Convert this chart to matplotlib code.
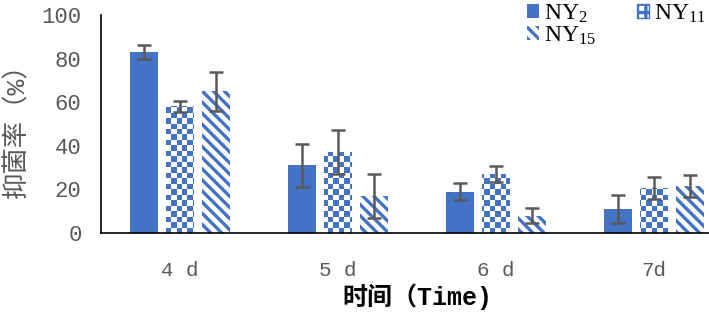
import numpy as np
import matplotlib
matplotlib.use('Agg')
import matplotlib.pyplot as plt
from matplotlib.colors import ListedColormap
from matplotlib.patches import Patch

plt.rcParams['font.family'] = ['Liberation Mono', 'Noto Sans CJK SC', 'DejaVu Sans']
plt.rcParams['mathtext.default'] = 'regular'
plt.rcParams['hatch.linewidth'] = 2.4
plt.rcParams['hatch.color'] = '#4472C4'

days = ['4 d', '5 d', '6 d', '7d']
ny2 = [83, 31, 19, 11]
ny2_err = [3, 10, 4, 6.5]
ny11 = [58, 37, 27, 20.5]
ny11_err = [2.5, 10, 3.5, 5]
ny15 = [65, 17, 8, 21.5]
ny15_err = [9, 10, 3.5, 5]

blue = '#4472C4'
grey = '#595959'

fig = plt.figure(figsize=(7.09, 3.17), dpi=100)
ax = fig.add_axes([0.1425, 0.265, 0.891, 0.688])

x = np.arange(len(days))
w = 0.175
off = 0.228
err_kw = dict(ecolor=grey, elinewidth=1.8, capsize=5, capthick=1.8)

ax.bar(x - off, ny2, w, yerr=ny2_err, color=blue, error_kw=err_kw, zorder=2)
b11 = ax.bar(x, ny11, w, yerr=ny11_err, color='none', error_kw=err_kw, zorder=3)
ax.bar(x + off, ny15, w, yerr=ny15_err, color='white', hatch='\\\\\\', linewidth=0,
       error_kw=err_kw, zorder=2)

# checkerboard fill for NY11, clipped to each bar
ncol, nrow = 117, 40
ii, jj = np.meshgrid(np.arange(ncol), np.arange(nrow))
checker = (ii + jj) % 2
cmap = ListedColormap(['white', blue])
for bar in b11:
    im = ax.imshow(checker, extent=(-0.5, 3.5, 0, 100), cmap=cmap, aspect='auto',
                   interpolation='nearest', zorder=2)
    im.set_clip_path(bar)

ax.set_xlim(-0.5, 3.5)
ax.set_ylim(0, 100)
ax.set_yticks([0, 20, 40, 60, 80, 100])
ax.set_xticks(x)
ax.set_xticklabels(days)
ax.tick_params(length=0, labelsize=16, labelcolor=grey)
ax.tick_params(axis='y', pad=14)
ax.tick_params(axis='x', pad=20, labelsize=15)
for s in ['top', 'right']:
    ax.spines[s].set_visible(False)
ax.spines['left'].set_linewidth(1.2)
ax.spines['bottom'].set_linewidth(1.2)

ax.set_ylabel('抑菌率（%）', fontsize=19, color=grey, labelpad=9)
ax.set_xlabel('时间（Time)', fontsize=18, fontweight='bold', labelpad=3)

handles = [Patch(facecolor=blue), Patch(facecolor='white', hatch='\\\\\\'),
           Patch(facecolor='white', edgecolor=blue, hatch='++')]
fig.legend(handles, [r'NY$_2$', r'NY$_{15}$', r'NY$_{11}$'], ncol=2,
           loc='upper left', bbox_to_anchor=(0.714, 1.06), frameon=False,
           prop={'family': ['Liberation Serif'], 'size': 17},
           handlelength=0.5, handleheight=0.55, handletextpad=0.2,
           columnspacing=1.75, labelspacing=0.0)

fig.savefig('out.png', dpi=100)
